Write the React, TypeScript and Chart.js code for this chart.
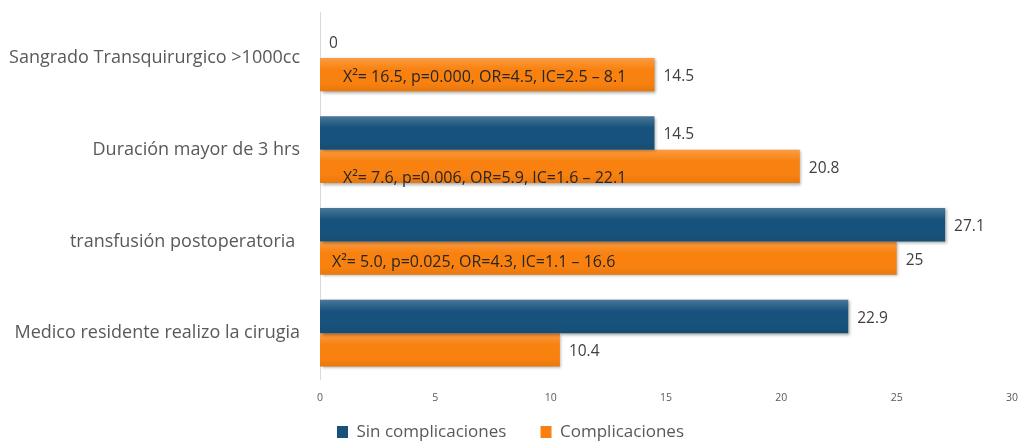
import { useEffect, useRef } from "react";
import { Chart, registerables } from "chart.js";

Chart.register(...registerables);

const categories = [
  "Sangrado Transquirurgico >1000cc",
  "Duración mayor de 3 hrs",
  "transfusión postoperatoria ",
  "Medico residente realizo la cirugia",
];
const sinComplicaciones = [0, 14.5, 27.1, 22.9];
const complicaciones = [14.5, 20.8, 25, 10.4];
const statsLabels = [
  "X²= 16.5, p=0.000, OR=4.5, IC=2.5 – 8.1",
  "X²= 7.6, p=0.006, OR=5.9, IC=1.6 – 22.1",
  "X²= 5.0, p=0.025, OR=4.3, IC=1.1 – 16.6",
  "",
];
const xTickMin = 0;
const xTickMax = 30;
const xTickStep = 5;
const seriesNames = ["Sin complicaciones", "Complicaciones"];

// label placement inside the orange bars (layout only)
const statsOffsets = [
  { dx: 23, dy: 2.5 },
  { dx: 23, dy: 12.5 },
  { dx: 12, dy: 4.5 },
  { dx: 0, dy: 0 },
];

const FONT = "'Open Sans', 'Noto Sans', sans-serif";

export default function App() {
  const canvasRef = useRef<HTMLCanvasElement | null>(null);

  useEffect(() => {
    document.body.style.margin = "0";
    const canvas = canvasRef.current;
    if (!canvas) return;

    const shadowPlugin = {
      id: "barShadow",
      beforeDatasetDraw(chart: any) {
        const ctx = chart.ctx;
        ctx.save();
        ctx.shadowColor = "rgba(0,0,0,0.35)";
        ctx.shadowBlur = 3;
        ctx.shadowOffsetX = 1.5;
        ctx.shadowOffsetY = 1.5;
      },
      afterDatasetDraw(chart: any, args: any) {
        const ctx = chart.ctx;
        ctx.restore();
        const meta = chart.getDatasetMeta(args.index);
        meta.data.forEach((bar: any) => {
          const top = bar.y - bar.height / 2;
          const h = bar.height;
          const left = Math.min(bar.base, bar.x);
          const w = Math.abs(bar.x - bar.base);
          if (w <= 0) return;
          const g = ctx.createLinearGradient(0, top, 0, top + h);
          g.addColorStop(0, "rgba(255,255,255,0.22)");
          g.addColorStop(0.35, "rgba(255,255,255,0)");
          g.addColorStop(0.75, "rgba(0,0,0,0)");
          g.addColorStop(1, "rgba(0,0,0,0.07)");
          ctx.save();
          ctx.fillStyle = g;
          ctx.fillRect(left, top, w, h);
          ctx.restore();
        });
      },
    };

    const labelPlugin = {
      id: "valueLabels",
      afterDatasetsDraw(chart: any) {
        const ctx = chart.ctx;
        ctx.save();
        ctx.textBaseline = "middle";
        ctx.textAlign = "left";
        chart.data.datasets.forEach((ds: any, i: number) => {
          const meta = chart.getDatasetMeta(i);
          meta.data.forEach((bar: any, j: number) => {
            ctx.font = `15.5px ${FONT}`;
            ctx.fillStyle = "#404040";
            ctx.fillText(String(ds.data[j]), bar.x + 9, bar.y + 2);
            if (i === 1 && statsLabels[j]) {
              const off = statsOffsets[j];
              ctx.font = `16px ${FONT}`;
              ctx.fillStyle = "#262626";
              ctx.fillText(statsLabels[j], bar.base + off.dx, bar.y + off.dy);
            }
          });
        });
        ctx.restore();
      },
    };

    const baseGen = (Chart as any).defaults.plugins.legend.labels.generateLabels;

    const chart = new Chart(canvas, {
      type: "bar",
      data: {
        labels: categories,
        datasets: [
          {
            label: seriesNames[0],
            data: sinComplicaciones,
            backgroundColor: "#17527c",
            borderWidth: 0,
          },
          {
            label: seriesNames[1],
            data: complicaciones,
            backgroundColor: "#f9810f",
            borderWidth: 0,
          },
        ],
      },
      options: {
        indexAxis: "y",
        animation: false,
        responsive: true,
        maintainAspectRatio: false,
        datasets: {
          bar: {
            categoryPercentage: 0.73,
            barPercentage: 1,
          },
        },
        layout: { padding: 0 },
        scales: {
          x: {
            type: "linear",
            min: xTickMin,
            max: xTickMax,
            ticks: {
              stepSize: xTickStep,
              color: "#595959",
              font: { family: FONT, size: 10.5 },
              padding: 13,
            },
            grid: { display: false, drawTicks: false },
            border: { display: false },
            afterFit(scale: any) {
              scale.height = 28;
              scale.paddingLeft = 0;
              scale.paddingRight = 9;
            },
          },
          y: {
            type: "category",
            ticks: {
              color: "#595959",
              font: { family: FONT, size: 18 },
              padding: 20,
            },
            grid: { display: false, drawTicks: false },
            border: { display: true, color: "#d9d9d9", width: 1 },
            afterFit(scale: any) {
              scale.width = 320;
              scale.paddingTop = 12;
              scale.paddingBottom = 0;
            },
          },
        },
        plugins: {
          legend: {
            position: "bottom",
            maxHeight: 34,
            labels: {
              color: "#595959",
              font: { family: FONT, size: 17 },
              boxWidth: 11,
              boxHeight: 12,
              padding: 16.5,
              generateLabels(chart: any) {
                const items = baseGen(chart);
                return items.map((it: any, k: number) =>
                  k === 0 ? { ...it, text: it.text + "    " } : it
                );
              },
            },
          },
          tooltip: { enabled: false },
        },
      } as any,
      plugins: [shadowPlugin, labelPlugin],
    });

    return () => chart.destroy();
  }, []);

  return (
    <div style={{ width: 1021, height: 441, position: "relative" }}>
      <canvas ref={canvasRef} />
    </div>
  );
}
